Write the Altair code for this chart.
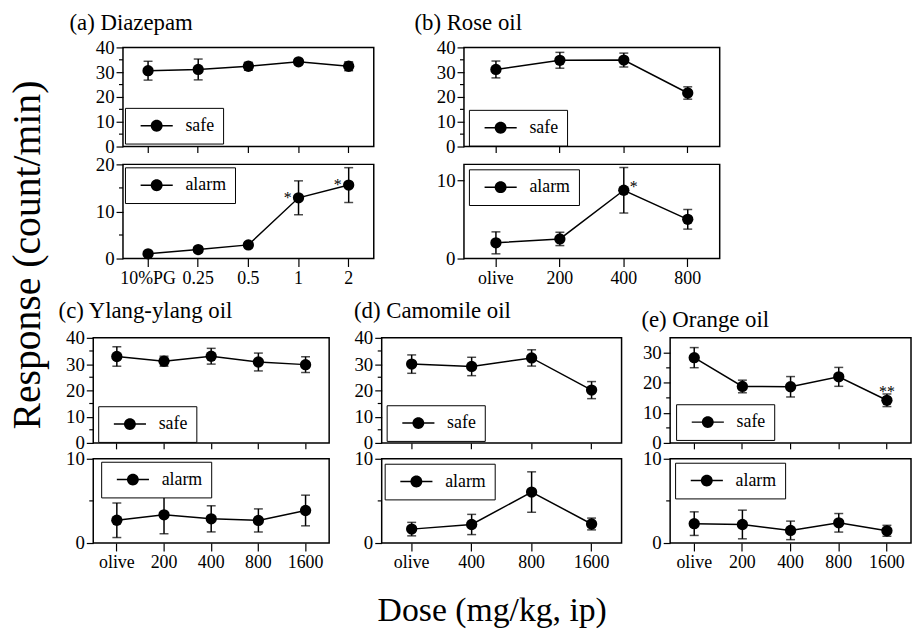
import altair as alt
import pandas as pd

SERIF = "Liberation Serif"

# ---------------- data ----------------
a_doses = ["10%PG", "0.25", "0.5", "1", "2"]
a_safe_mean = [30.6, 31.1, 32.4, 34.2, 32.4]
a_safe_sem = [3.8, 4.2, 1.6, 1.1, 1.8]
a_alarm_mean = [1.0, 1.9, 2.9, 12.9, 15.6]
a_alarm_sem = [0.4, 0.6, 0.6, 3.6, 3.7]
a_alarm_sig = ["", "", "", "*", "*"]

b_doses = ["olive", "200", "400", "800"]
b_safe_mean = [31.1, 34.8, 34.9, 21.6]
b_safe_sem = [3.4, 3.2, 2.8, 2.5]
b_alarm_mean = [2.0, 2.5, 8.7, 5.0]
b_alarm_sem = [1.4, 0.85, 2.9, 1.25]
b_alarm_sig = ["", "", "*", ""]

c_doses = ["olive", "200", "400", "800", "1600"]
c_safe_mean = [32.9, 31.1, 33.0, 30.8, 29.8]
c_safe_sem = [3.7, 1.9, 3.0, 3.4, 3.0]
c_alarm_mean = [2.7, 3.35, 2.87, 2.68, 3.86]
c_alarm_sem = [2.05, 2.25, 1.55, 1.37, 1.82]

d_doses = ["olive", "400", "800", "1600"]
d_safe_mean = [30.0, 29.1, 32.35, 20.1]
d_safe_sem = [3.5, 3.5, 3.1, 3.25]
d_alarm_mean = [1.65, 2.2, 6.05, 2.26]
d_alarm_sem = [0.8, 1.2, 2.4, 0.7]

e_doses = ["olive", "200", "400", "800", "1600"]
e_safe_mean = [28.4, 18.8, 18.7, 22.0, 14.2]
e_safe_sem = [3.35, 2.1, 3.4, 3.15, 2.1]
e_safe_sig = ["", "", "", "", "**"]
e_alarm_mean = [2.3, 2.2, 1.5, 2.4, 1.45]
e_alarm_sem = [1.4, 1.7, 1.1, 1.1, 0.65]

titles = ["(a) Diazepam", "(b) Rose oil", "(c) Ylang-ylang oil", "(d) Camomile oil", "(e) Orange oil"]

LEG_PATH = ("M-2.7,-0.12H-0.9V0.12H-2.7Z M0.9,-0.12H2.7V0.12H0.9Z "
            "M1,0A1,1 0 1,1 -1,0A1,1 0 1,1 1,0Z")


def panel(doses, means, sems, series, ydom, major, minor, w, h, leg_xy, labels,
          sig=None, sig_dx=0, sig_dy=0, title=None, title_dx=0, title_dy=0,
          x_extra=None):
    lo = [m - s for m, s in zip(means, sems)]
    hi = [m + s for m, s in zip(means, sems)]
    df = pd.DataFrame({"dose": doses, "mean": means, "lo": lo, "hi": hi,
                       "series": [series] * len(doses),
                       "sig": sig if sig else [""] * len(doses)})
    xkw = dict(labels=labels, labelFontSize=18, labelAngle=0,
               tickSize=8 if labels else 6, labelPadding=3, title=None)
    if x_extra:
        xkw.update(x_extra)
    yaxis = alt.Axis(values=major, labels=True, labelFontSize=19, tickSize=7,
                     labelPadding=2, labelOverlap=False, title=None)
    ysc = alt.Scale(domain=ydom, nice=False, zero=True)
    xenc = alt.X("dose:O", scale=alt.Scale(domain=doses), axis=alt.Axis(**xkw))
    base = alt.Chart(df).encode(x=xenc)
    line = base.mark_line(color="black", strokeWidth=1.5).encode(
        y=alt.Y("mean:Q", scale=ysc, axis=yaxis)
    )
    err = base.mark_rule(color="black", strokeWidth=1.5).encode(
        y=alt.Y("lo:Q", scale=ysc, axis=yaxis), y2="hi:Q"
    )
    cap_lo = base.mark_tick(color="black", size=9, thickness=1.5).encode(
        y=alt.Y("lo:Q", scale=ysc, axis=yaxis)
    )
    cap_hi = base.mark_tick(color="black", size=9, thickness=1.5).encode(
        y=alt.Y("hi:Q", scale=ysc, axis=yaxis)
    )
    pts = base.mark_point(filled=True, size=130, opacity=1).encode(
        y=alt.Y("mean:Q", scale=ysc, axis=yaxis),
        color=alt.Color(
            "series:N", title=None,
            scale=alt.Scale(domain=[series], range=["black"]),
            legend=alt.Legend(
                orient="none", legendX=leg_xy[0], legendY=leg_xy[1],
                strokeColor="black", fillColor="white", padding=9,
                cornerRadius=0, symbolType=LEG_PATH, symbolSize=144,
                symbolFillColor="black", symbolStrokeWidth=0,
                symbolOffset=14, labelOffset=20, labelFont=SERIF,
                labelFontSize=18, labelColor="black",
            ),
        ),
    )
    layers = [line, err, cap_lo, cap_hi, pts]
    if minor:
        mdf = pd.DataFrame({"v": minor})
        layers.append(
            alt.Chart(mdf).mark_rule(color="black", strokeWidth=1.2).encode(
                y=alt.Y("v:Q", scale=ysc, axis=yaxis), x=alt.value(0), x2=alt.value(-4)
            )
        )
    if sig:
        sdf = df[df["sig"] != ""]
        layers.append(
            alt.Chart(sdf).mark_text(
                font=SERIF, fontSize=16, fill="black", dx=sig_dx, dy=sig_dy,
                baseline="alphabetic", align="center"
            ).encode(
                x=xenc,
                y=alt.Y("mean:Q", scale=ysc, axis=yaxis),
                text="sig:N",
            )
        )
    ch = alt.layer(*layers).properties(width=w, height=h)
    if title:
        ch = ch.properties(title=alt.TitleParams(
            text=title, anchor="start", frame="group", dx=title_dx, dy=title_dy,
            offset=9, fontSize=23, font=SERIF, fontWeight="normal",
            color="black", baseline="alphabetic", orient="top"))
    return ch


def spacer(w, h):
    return alt.Chart(pd.DataFrame({"z": [0]})).mark_point(opacity=0).encode(
        x=alt.value(0), y=alt.value(0)
    ).properties(width=w, height=h,
                 view=alt.ViewBackground(stroke="transparent", fill="transparent"))


def indep(c):
    return c.resolve_scale(color="independent", x="independent", y="independent"
                           ).resolve_legend(color="independent")


S40 = [0, 10, 20, 30, 40]
M40 = [5, 15, 25, 35]

a_safe = panel(a_doses, a_safe_mean, a_safe_sem, "safe", [0, 40], S40, M40, 253, 100,
               (2, 61), False, title=titles[0], title_dx=-54, title_dy=23)
a_alarm = panel(a_doses, a_alarm_mean, a_alarm_sem, "alarm", [0, 20], [0, 10, 20], [5, 15],
                253, 95, (2, 3), True, sig=a_alarm_sig, sig_dx=-11, sig_dy=5)
b_safe = panel(b_doses, b_safe_mean, b_safe_sem, "safe", [0, 40], S40, M40, 258, 100,
               (5, 63), False, title=titles[1], title_dx=-50, title_dy=23)
b_alarm = panel(b_doses, b_alarm_mean, b_alarm_sem, "alarm", [0, 12], [0, 10], [],
                258, 95, (5, 5), True, sig=b_alarm_sig, sig_dx=10, sig_dy=2)
c_safe = panel(c_doses, c_safe_mean, c_safe_sem, "safe", [0, 40], S40, M40, 238, 106,
               (5, 69), False, title=titles[2], title_dx=-35, title_dy=21)
c_alarm = panel(c_doses, c_alarm_mean, c_alarm_sem, "alarm", [0, 10], [0, 10], [5],
                238, 85, (8, 3), True)
d_safe = panel(d_doses, d_safe_mean, d_safe_sem, "safe", [0, 40], S40, M40, 242, 106,
               (5, 68), False, title=titles[3], title_dx=-28, title_dy=21)
d_alarm = panel(d_doses, d_alarm_mean, d_alarm_sem, "alarm", [0, 10], [0, 10], [5],
                242, 85, (3, 5), True,
                x_extra=dict(title="Dose (mg/kg, ip)", titleX=111, titleY=78,
                             titleAlign="center", titleBaseline="alphabetic",
                             titleFontSize=34))
e_safe = panel(e_doses, e_safe_mean, e_safe_sem, "safe", [0, 35], [0, 10, 20, 30],
               [5, 15, 25], 243, 106, (6, 67), False, sig=e_safe_sig, sig_dx=0,
               sig_dy=-3, title=titles[4], title_dx=-29, title_dy=21)
e_alarm = panel(e_doses, e_alarm_mean, e_alarm_sem, "alarm", [0, 10], [0, 10], [5],
                243, 85, (5, 4), True)

row1_safe = indep(alt.hconcat(spacer(30, 100), a_safe, spacer(91, 100), b_safe,
                              spacing=0, bounds="flush"))
row1_alarm = indep(alt.hconcat(spacer(30, 95), a_alarm, spacer(91, 95), b_alarm,
                               spacing=0, bounds="flush"))
row2_safe = indep(alt.hconcat(c_safe, spacer(53, 106), d_safe, spacer(49, 106), e_safe,
                              spacing=0, bounds="flush"))
row2_alarm = indep(alt.hconcat(c_alarm, spacer(53, 85), d_alarm, spacer(49, 85), e_alarm,
                               spacing=0, bounds="flush"))

row1 = indep(alt.vconcat(row1_safe, row1_alarm, spacing=-3))
row2 = indep(alt.vconcat(row2_safe, row2_alarm, spacing=-5))

chart = indep(alt.vconcat(row1, row2, spacing=11)).properties(
    title=alt.TitleParams(
        text="Response (count/min)", orient="left", anchor="middle",
        frame="bounds", baseline="alphabetic", offset=19, dx=65, dy=41.5,
        font=SERIF, fontSize=40, fontWeight="normal", color="black"),
    padding={"left": 0, "top": 0, "right": 0, "bottom": 0}, background="white"
).configure_view(
    stroke="black", strokeWidth=1.5
).configure_axis(
    labelFont=SERIF, labelColor="black", tickColor="black", tickWidth=1.2,
    domain=False, grid=False, titleFont=SERIF, titleColor="black",
    titleFontWeight="normal"
)

chart.save("out.html", embed_options={"renderer": "svg", "actions": False})
